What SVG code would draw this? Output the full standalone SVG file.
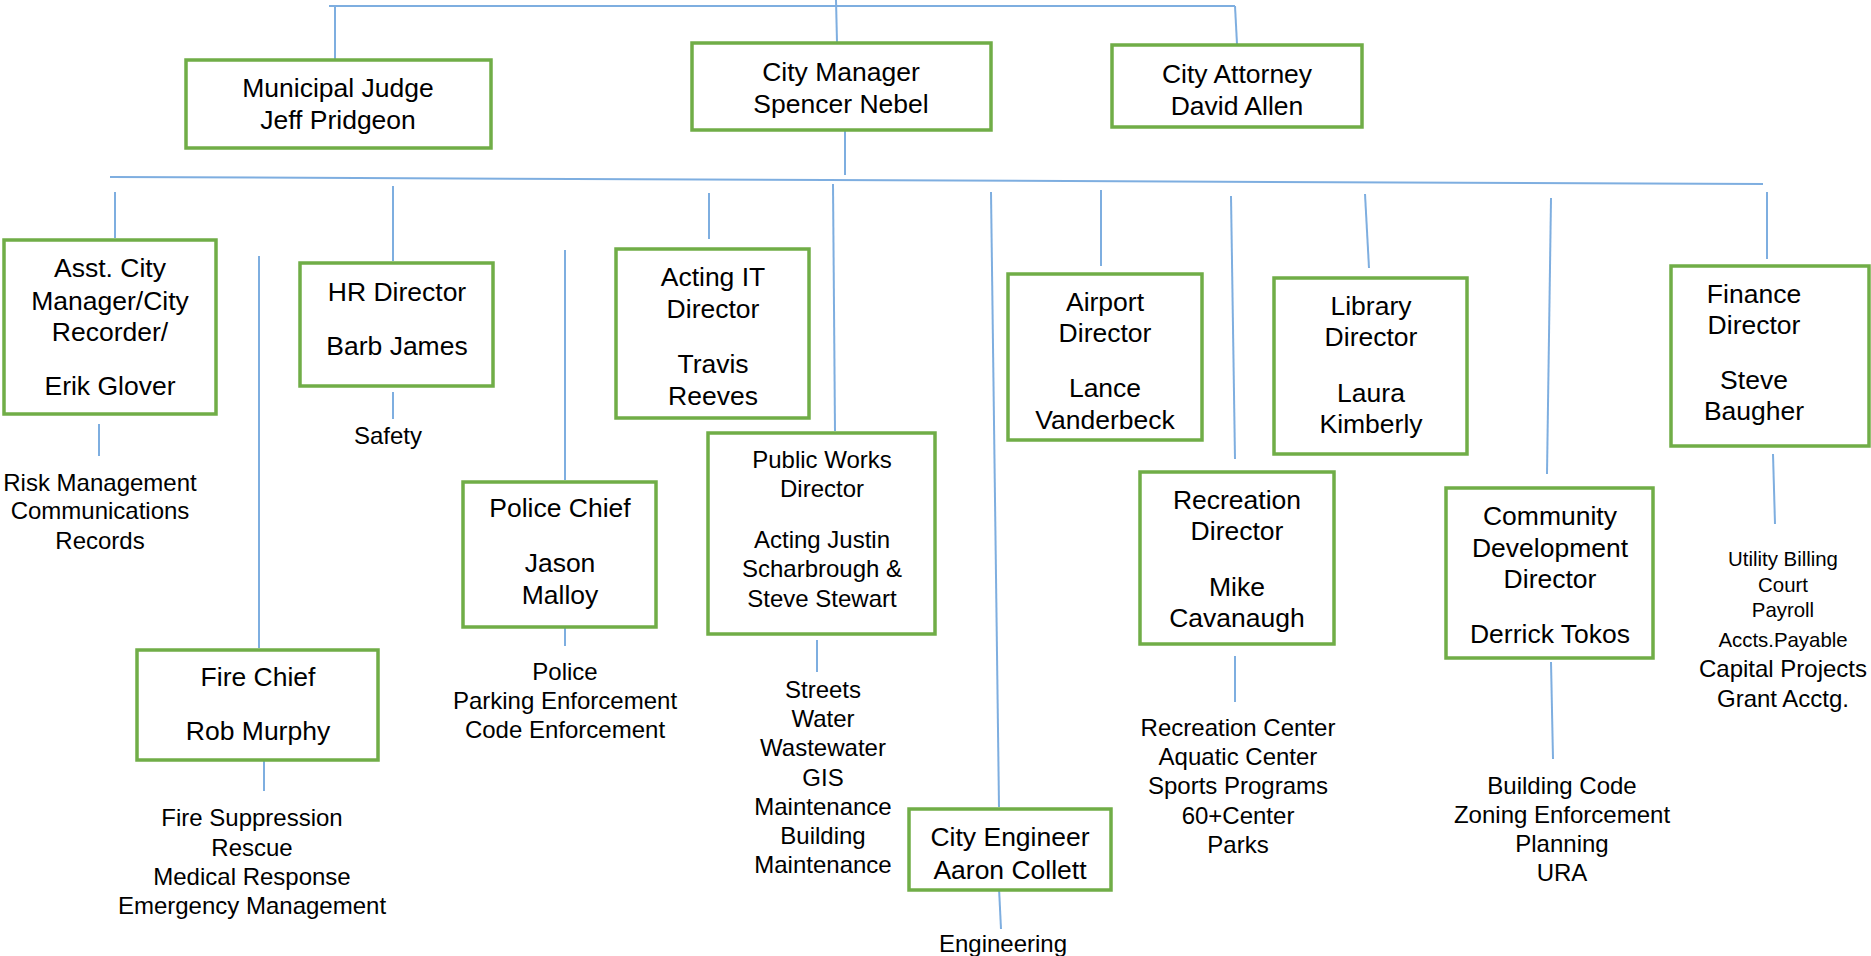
<svg xmlns="http://www.w3.org/2000/svg" width="1871" height="956" viewBox="0 0 1871 956">
<style>
.box{fill:#fff;stroke:#70AD47;stroke-width:3.5}
.t{font-family:"Liberation Sans",Arial,sans-serif;font-size:26.5px;fill:#000;text-anchor:middle}
.s{font-family:"Liberation Sans",Arial,sans-serif;font-size:24px;fill:#000;text-anchor:middle}
.xs{font-size:20.4px}
.c line{stroke:#7EAEE0;stroke-width:2;fill:none}
</style>
<rect width="1871" height="956" fill="#fff"/>
<g id="connectors" class="c">
<line x1="329" y1="6" x2="1235" y2="6"/>
<line x1="335" y1="7" x2="335" y2="62"/>
<line x1="836" y1="0" x2="837" y2="42"/>
<line x1="1235" y1="6" x2="1237" y2="44"/>
<line x1="845" y1="131" x2="845" y2="175"/>
<line x1="110" y1="177" x2="1763" y2="184"/>
<line x1="115" y1="192" x2="115" y2="238"/>
<line x1="99" y1="424" x2="99" y2="456"/>
<line x1="259" y1="256" x2="259" y2="648"/>
<line x1="264" y1="750" x2="264" y2="791"/>
<line x1="393" y1="186" x2="393" y2="261"/>
<line x1="393" y1="392" x2="393" y2="419"/>
<line x1="565" y1="250" x2="565" y2="480"/>
<line x1="565" y1="620" x2="565" y2="646"/>
<line x1="709" y1="193" x2="709" y2="239"/>
<line x1="833" y1="184" x2="835" y2="431"/>
<line x1="817" y1="640" x2="817" y2="672"/>
<line x1="991" y1="192" x2="999" y2="807"/>
<line x1="999" y1="888" x2="1001" y2="929"/>
<line x1="1101" y1="190" x2="1101" y2="266"/>
<line x1="1231" y1="196" x2="1235" y2="459"/>
<line x1="1235" y1="656" x2="1235" y2="702"/>
<line x1="1365" y1="194" x2="1369" y2="268"/>
<line x1="1551" y1="198" x2="1547" y2="474"/>
<line x1="1551" y1="662" x2="1553" y2="759"/>
<line x1="1767" y1="192" x2="1767" y2="259"/>
<line x1="1773" y1="454" x2="1775" y2="524"/>
</g>
<g id="municipal-judge">
<rect class="box" x="186" y="60" width="305" height="88"/>
<text class="t" x="338" y="97">Municipal Judge</text>
<text class="t" x="338" y="129">Jeff Pridgeon</text>
</g>
<g id="city-manager">
<rect class="box" x="692" y="43" width="299" height="87"/>
<text class="t" x="841" y="81">City Manager</text>
<text class="t" x="841" y="113">Spencer Nebel</text>
</g>
<g id="city-attorney">
<rect class="box" x="1112" y="45" width="250" height="82"/>
<text class="t" x="1237" y="83">City Attorney</text>
<text class="t" x="1237" y="115">David Allen</text>
</g>
<g id="asst-city-manager">
<rect class="box" x="4" y="240" width="212" height="174"/>
<text class="t" x="110" y="277">Asst. City</text>
<text class="t" x="110" y="310">Manager/City</text>
<text class="t" x="110" y="341">Recorder/</text>
<text class="t" x="110" y="395">Erik Glover</text>
</g>
<g id="asst-city-manager-units">
<text class="s" x="100" y="491">Risk Management</text>
<text class="s" x="100" y="519">Communications</text>
<text class="s" x="100" y="549">Records</text>
</g>
<g id="hr-director">
<rect class="box" x="300" y="263" width="193" height="123"/>
<text class="t" x="397" y="301">HR Director</text>
<text class="t" x="397" y="355">Barb James</text>
</g>
<g id="hr-units">
<text class="s" x="388" y="444">Safety</text>
</g>
<g id="fire-chief">
<rect class="box" x="137" y="650" width="241" height="110"/>
<text class="t" x="258" y="686">Fire Chief</text>
<text class="t" x="258" y="740">Rob Murphy</text>
</g>
<g id="fire-units">
<text class="s" x="252" y="826">Fire Suppression</text>
<text class="s" x="252" y="856">Rescue</text>
<text class="s" x="252" y="885">Medical Response</text>
<text class="s" x="252" y="914">Emergency Management</text>
</g>
<g id="police-chief">
<rect class="box" x="463" y="482" width="193" height="145"/>
<text class="t" x="560" y="517">Police Chief</text>
<text class="t" x="560" y="572">Jason</text>
<text class="t" x="560" y="604">Malloy</text>
</g>
<g id="police-units">
<text class="s" x="565" y="680">Police</text>
<text class="s" x="565" y="709">Parking Enforcement</text>
<text class="s" x="565" y="738">Code Enforcement</text>
</g>
<g id="it-director">
<rect class="box" x="616" y="249" width="193" height="169"/>
<text class="t" x="713" y="286">Acting IT</text>
<text class="t" x="713" y="318">Director</text>
<text class="t" x="713" y="373">Travis</text>
<text class="t" x="713" y="405">Reeves</text>
</g>
<g id="public-works-director">
<rect class="box" x="708" y="433" width="227" height="201"/>
<text class="s" x="822" y="468">Public Works</text>
<text class="s" x="822" y="497">Director</text>
<text class="s" x="822" y="548">Acting Justin</text>
<text class="s" x="822" y="577">Scharbrough &amp;</text>
<text class="s" x="822" y="607">Steve Stewart</text>
</g>
<g id="public-works-units">
<text class="s" x="823" y="698">Streets</text>
<text class="s" x="823" y="727">Water</text>
<text class="s" x="823" y="756">Wastewater</text>
<text class="s" x="823" y="786">GIS</text>
<text class="s" x="823" y="815">Maintenance</text>
<text class="s" x="823" y="844">Building</text>
<text class="s" x="823" y="873">Maintenance</text>
</g>
<g id="city-engineer">
<rect class="box" x="909" y="809" width="202" height="81"/>
<text class="t" x="1010" y="846">City Engineer</text>
<text class="t" x="1010" y="879">Aaron Collett</text>
</g>
<g id="city-engineer-units">
<text class="s" x="1003" y="952">Engineering</text>
</g>
<g id="airport-director">
<rect class="box" x="1008" y="274" width="194" height="166"/>
<text class="t" x="1105" y="311">Airport</text>
<text class="t" x="1105" y="342">Director</text>
<text class="t" x="1105" y="397">Lance</text>
<text class="t" x="1105" y="429">Vanderbeck</text>
</g>
<g id="recreation-director">
<rect class="box" x="1140" y="472" width="194" height="172"/>
<text class="t" x="1237" y="509">Recreation</text>
<text class="t" x="1237" y="540">Director</text>
<text class="t" x="1237" y="596">Mike</text>
<text class="t" x="1237" y="627">Cavanaugh</text>
</g>
<g id="recreation-units">
<text class="s" x="1238" y="736">Recreation Center</text>
<text class="s" x="1238" y="765">Aquatic Center</text>
<text class="s" x="1238" y="794">Sports Programs</text>
<text class="s" x="1238" y="824">60+Center</text>
<text class="s" x="1238" y="853">Parks</text>
</g>
<g id="library-director">
<rect class="box" x="1274" y="278" width="193" height="176"/>
<text class="t" x="1371" y="315">Library</text>
<text class="t" x="1371" y="346">Director</text>
<text class="t" x="1371" y="402">Laura</text>
<text class="t" x="1371" y="433">Kimberly</text>
</g>
<g id="community-development-director">
<rect class="box" x="1446" y="488" width="207" height="170"/>
<text class="t" x="1550" y="525">Community</text>
<text class="t" x="1550" y="557">Development</text>
<text class="t" x="1550" y="588">Director</text>
<text class="t" x="1550" y="643">Derrick Tokos</text>
</g>
<g id="community-development-units">
<text class="s" x="1562" y="794">Building Code</text>
<text class="s" x="1562" y="823">Zoning Enforcement</text>
<text class="s" x="1562" y="852">Planning</text>
<text class="s" x="1562" y="881">URA</text>
</g>
<g id="finance-director">
<rect class="box" x="1671" y="266" width="198" height="180"/>
<text class="t" x="1754" y="303">Finance</text>
<text class="t" x="1754" y="334">Director</text>
<text class="t" x="1754" y="389">Steve</text>
<text class="t" x="1754" y="420">Baugher</text>
</g>
<g id="finance-units">
<text class="s xs" x="1783" y="566">Utility Billing</text>
<text class="s xs" x="1783" y="592">Court</text>
<text class="s xs" x="1783" y="617">Payroll</text>
<text class="s xs" x="1783" y="647">Accts.Payable</text>
<text class="s" x="1783" y="677">Capital Projects</text>
<text class="s" x="1783" y="707">Grant Acctg.</text>
</g>
</svg>
